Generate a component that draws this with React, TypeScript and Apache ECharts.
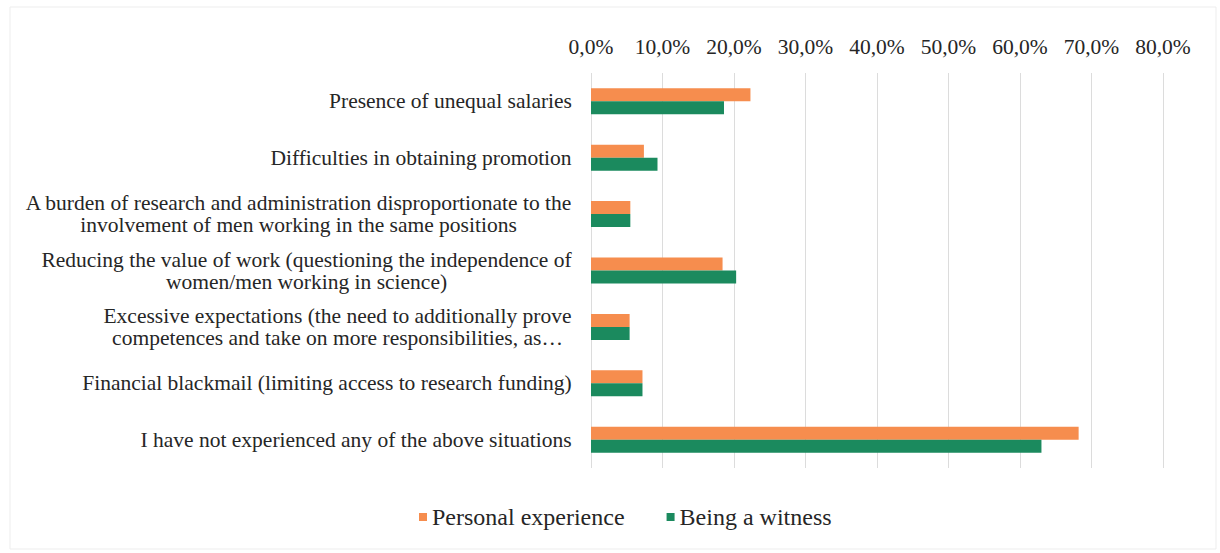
import React, { useEffect, useRef } from "react";
import * as echarts from "echarts";

const categories: string[][] = [
  ["Presence of unequal salaries"],
  ["Difficulties in obtaining promotion"],
  ["A burden of research and administration disproportionate to the", "involvement of men working in the same positions"],
  ["Reducing the value of work (questioning the independence of", "women/men working in science)"],
  ["Excessive expectations (the need to additionally prove", "competences and take on more responsibilities, as\u2026"],
  ["Financial blackmail (limiting access to research funding)"],
  ["I have not experienced any of the above situations"],
];
const personal = [22.3, 7.4, 5.5, 18.4, 5.4, 7.2, 68.2];
const witness = [18.6, 9.3, 5.5, 20.3, 5.4, 7.2, 63.0];
const seriesNames = ["Personal experience", "Being a witness"];
const colors = ["#F68D4E", "#1B8A5E"];

const FONT = "'Liberation Serif', 'Times New Roman', serif";
const FS = 21.5;
const LEGEND_FS = 24;
const LH = 22;

function measure(t: string): number {
  const c = document.createElement("canvas").getContext("2d");
  if (!c) return t.length * 9;
  c.font = `${FS}px 'Liberation Serif'`;
  return c.measureText(t).width;
}

export default function App() {
  const ref = useRef<HTMLDivElement>(null);
  useEffect(() => {
    if (!ref.current) return;
    const chart = echarts.init(ref.current, null, { renderer: "svg" });
    const rich: Record<string, any> = {};
    categories.forEach((lines, i) => {
      const w = Math.ceil(Math.max(...lines.map(measure)));
      rich["r" + i] = {
        width: w,
        align: "center",
        fontSize: FS,
        fontFamily: FONT,
        color: "#262626",
        lineHeight: LH,
      };
    });
    chart.setOption({
      animation: false,
      textStyle: { fontFamily: FONT },
      graphic: [
        {
          type: "rect",
          shape: { x: 10, y: 7, width: 1206, height: 542 },
          style: { fill: "none", stroke: "#EDEDED", lineWidth: 1 },
          silent: true,
        },
      ],
      grid: { left: 591, right: 57, top: 73, bottom: 85, containLabel: false },
      xAxis: {
        type: "value",
        position: "top",
        min: 0,
        max: 80,
        interval: 10,
        axisLine: { show: false },
        axisTick: { show: false },
        splitLine: { show: true, lineStyle: { color: "#DCDCDC", width: 1 } },
        axisLabel: {
          margin: 15,
          fontSize: FS,
          fontFamily: FONT,
          color: "#262626",
          formatter: (v: number) => v.toFixed(1).replace(".", ",") + "%",
        },
      },
      yAxis: {
        type: "category",
        inverse: true,
        data: categories.map((l) => l.join("\n")),
        axisLine: { show: false },
        axisTick: { show: false },
        axisLabel: {
          margin: 19,
          fontSize: FS,
          fontFamily: FONT,
          color: "#262626",
          lineHeight: LH,
          formatter: (_v: string, i: number) =>
            categories[i].map((l) => `{r${i}|${l}}`).join("\n"),
          rich,
        },
      },
      legend: {
        bottom: 19,
        left: 414,
        itemWidth: 8,
        itemHeight: 8,
        itemGap: 42,
        icon: "rect",
        textStyle: { fontSize: LEGEND_FS, fontFamily: FONT, color: "#262626" },
        data: seriesNames,
      },
      series: [
        {
          name: seriesNames[0],
          type: "bar",
          data: personal,
          barWidth: 13,
          barGap: "0%",
          itemStyle: { color: colors[0] },
        },
        {
          name: seriesNames[1],
          type: "bar",
          data: witness,
          barWidth: 13,
          barGap: "0%",
          itemStyle: { color: colors[1] },
        },
      ],
    });
    return () => chart.dispose();
  }, []);
  return (
    <div
      ref={ref}
      style={{ position: "fixed", left: 0, top: 0, width: 1220, height: 553, background: "#fff" }}
    />
  );
}
